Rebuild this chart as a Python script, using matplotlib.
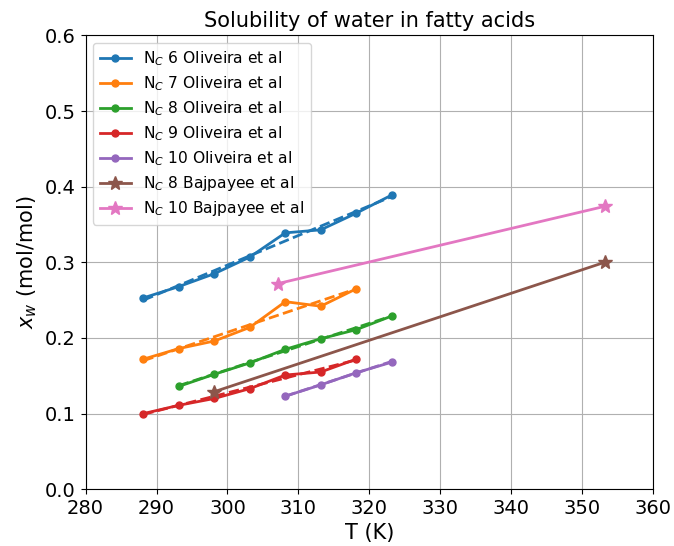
import matplotlib
matplotlib.use("Agg")
import matplotlib.pyplot as plt

T7 = [288.15, 293.15, 298.15, 303.15, 308.15, 313.15, 318.15]
T8 = [288.15, 293.15, 298.15, 303.15, 308.15, 313.15, 318.15, 323.15]
T_c8 = [293.15, 298.15, 303.15, 308.15, 313.15, 318.15, 323.15]
T_c10 = [308.15, 313.15, 318.15, 323.15]
T_baj8 = [298.15, 353.15]
T_baj10 = [307.15, 353.15]

x_c6 = [0.253, 0.268, 0.285, 0.307, 0.339, 0.343, 0.365, 0.389]
x_c7 = [0.172, 0.186, 0.196, 0.214, 0.248, 0.242, 0.265]
x_c8 = [0.136, 0.152, 0.167, 0.185, 0.199, 0.211, 0.229]
x_c9 = [0.100, 0.111, 0.120, 0.133, 0.151, 0.155, 0.172]
x_c10 = [0.123, 0.138, 0.154, 0.168]
x_baj8 = [0.129, 0.300]
x_baj10 = [0.272, 0.374]

# dashed linear-fit lines (end values)
fit_c6 = [0.250, 0.387]
fit_c7 = [0.170, 0.265]
fit_c8 = [0.137, 0.229]
fit_c9 = [0.099, 0.171]
fit_c10 = [0.123, 0.169]

labels = [r"N$_C$ 6 Oliveira et al", r"N$_C$ 7 Oliveira et al",
          r"N$_C$ 8 Oliveira et al", r"N$_C$ 9 Oliveira et al",
          r"N$_C$ 10 Oliveira et al", r"N$_C$ 8 Bajpayee et al",
          r"N$_C$ 10 Bajpayee et al"]

fig = plt.figure(figsize=(6.74, 5.46), dpi=100)
ax = fig.add_axes([0.127, 0.104, 0.842, 0.831])

series = [(T8, x_c6, fit_c6), (T7, x_c7, fit_c7), (T_c8, x_c8, fit_c8),
          (T7, x_c9, fit_c9), (T_c10, x_c10, fit_c10)]
for i, (t, x, f) in enumerate(series):
    c = f"C{i}"
    ax.plot(t, x, "-o", color=c, lw=2, ms=5, label=labels[i], zorder=3)
    ax.plot([t[0], t[-1]], f, "--", color=c, lw=2, zorder=2)

ax.plot(T_baj8, x_baj8, "-*", color="C5", lw=2, ms=10, label=labels[5], zorder=3)
ax.plot(T_baj10, x_baj10, "-*", color="C6", lw=2, ms=10, label=labels[6], zorder=3)

ax.set_xlim(280, 360)
ax.set_ylim(0, 0.6)
ax.set_xticks(range(280, 361, 10))
ax.set_yticks([0.0, 0.1, 0.2, 0.3, 0.4, 0.5, 0.6])
ax.tick_params(labelsize=14)
ax.grid(True, color="#b0b0b0", lw=0.8)
ax.set_axisbelow(True)
ax.set_xlabel("T (K)", fontsize=15)
ax.set_ylabel(r"$x_w$ (mol/mol)", fontsize=15)
ax.set_title("Solubility of water in fatty acids", fontsize=15)
ax.legend(loc="upper left", fontsize=11.2, labelspacing=0.4)

fig.savefig("out.png", dpi=100)
